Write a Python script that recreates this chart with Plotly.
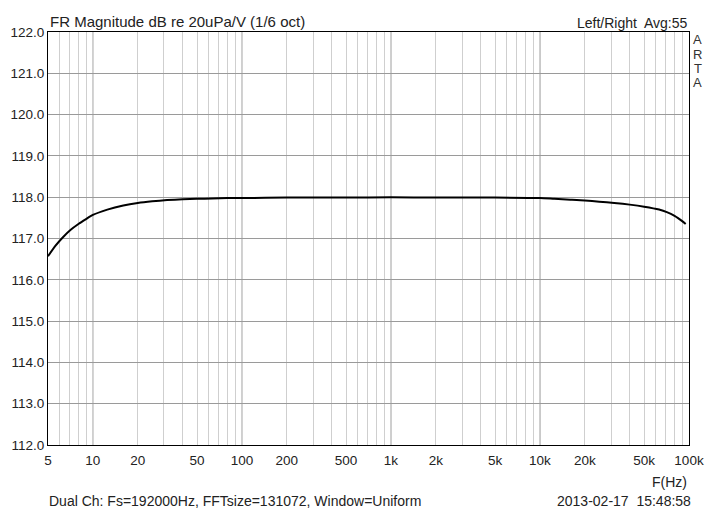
import math
import plotly.graph_objects as go

freq_hz = [5, 5.6, 6.3, 7.1, 8, 9, 10, 12.5, 16, 20, 25, 31.5, 40, 50, 63, 80, 100,
           200, 500, 1000, 2000, 5000, 10000, 12500, 16000, 20000, 25000, 31500,
           40000, 50000, 63000, 71000, 80000, 90000, 95000]
mag_db = [116.57, 116.82, 117.03, 117.21, 117.35, 117.47, 117.57, 117.7, 117.8, 117.86,
          117.9, 117.93, 117.95, 117.96, 117.97, 117.98, 117.98,
          117.99, 117.99, 118.0, 117.99, 117.99, 117.98, 117.96, 117.94, 117.92, 117.89,
          117.86, 117.82, 117.77, 117.7, 117.64, 117.55, 117.42, 117.35]

x_tick_vals = [5, 10, 20, 50, 100, 200, 500, 1000, 2000, 5000, 10000, 20000, 50000, 100000]
x_tick_text = ["5", "10", "20", "50", "100", "200", "500", "1k", "2k", "5k", "10k", "20k", "50k", "100k"]
y_tick_vals = [112, 113, 114, 115, 116, 117, 118, 119, 120, 121, 122]
decades = [10, 100, 1000, 10000]
minor_vals = [m * d for d in [1, 10, 100, 1000, 10000] for m in [3, 4, 6, 7, 8, 9]]
minor_vals = [v for v in minor_vals if 5 < v < 100000]

FONT = "Liberation Sans, Arial, sans-serif"

fig = go.Figure()
fig.add_trace(go.Scatter(x=freq_hz, y=mag_db, mode="lines",
                         line=dict(color="black", width=2, shape="spline", smoothing=0.6),
                         hoverinfo="skip"))

for d in decades:
    fig.add_shape(type="line", xref="x", yref="paper", x0=d, x1=d, y0=0, y1=1,
                  line=dict(color="#8c8c8c", width=1), layer="below")

fig.update_layout(
    width=708, height=510,
    margin=dict(l=48, r=19, t=32, b=65),
    paper_bgcolor="white", plot_bgcolor="white",
    showlegend=False,
    font=dict(family=FONT, size=13, color="#222222"),
    xaxis=dict(type="log", range=[math.log10(5), 5],
               tickmode="array", tickvals=x_tick_vals, ticktext=x_tick_text,
               showgrid=True, gridcolor="#cfcfcf", gridwidth=1,
               minor=dict(tickmode="array", tickvals=minor_vals, showgrid=True,
                          gridcolor="#cfcfcf", gridwidth=1, ticks=""),
               ticks="", showline=True, linecolor="black", linewidth=1, mirror=True,
               zeroline=False, tickfont=dict(size=13.5), automargin=False,
               ticklabelstandoff=3),
    yaxis=dict(range=[112, 122], tickmode="array", tickvals=y_tick_vals,
               tickformat=".1f",
               showgrid=True, gridcolor="#9a9a9a", gridwidth=1,
               ticks="", showline=True, linecolor="black", linewidth=1, mirror=True,
               zeroline=False, tickfont=dict(size=13.5), automargin=False),
)

def px_y(py):
    return (445 - py) / 413.0

def px_x(px):
    return (px - 48) / 641.0

ann = [
    dict(text="FR Magnitude dB re 20uPa/V (1/6 oct)", x=px_x(48), y=px_y(21.5), xanchor="left", size=15),
    dict(text="Left/Right  Avg:55", x=px_x(689), y=px_y(22.5), xanchor="right", size=14),
    dict(text="F(Hz)", x=px_x(689), y=px_y(482), xanchor="right", size=14),
    dict(text="Dual Ch: Fs=192000Hz, FFTsize=131072, Window=Uniform", x=px_x(47), y=px_y(501), xanchor="left", size=14),
    dict(text="2013-02-17  15:48:58", x=px_x(693), y=px_y(501), xanchor="right", size=14),
]
for a in ann:
    size = a.pop("size")
    fig.add_annotation(xref="paper", yref="paper", yanchor="middle", showarrow=False,
                       font=dict(family=FONT, size=size, color="#222222"), **a)

for letter, py in zip("ARTA", [40, 54, 68, 82]):
    fig.add_annotation(xref="paper", yref="paper", x=px_x(698), y=px_y(py),
                       xanchor="center", yanchor="middle", text=letter, showarrow=False,
                       font=dict(family=FONT, size=13, color="#333333"))

fig.write_html("out.html", config={"displayModeBar": False},
               post_script="document.body.style.margin='0';document.body.style.overflow='hidden';")
